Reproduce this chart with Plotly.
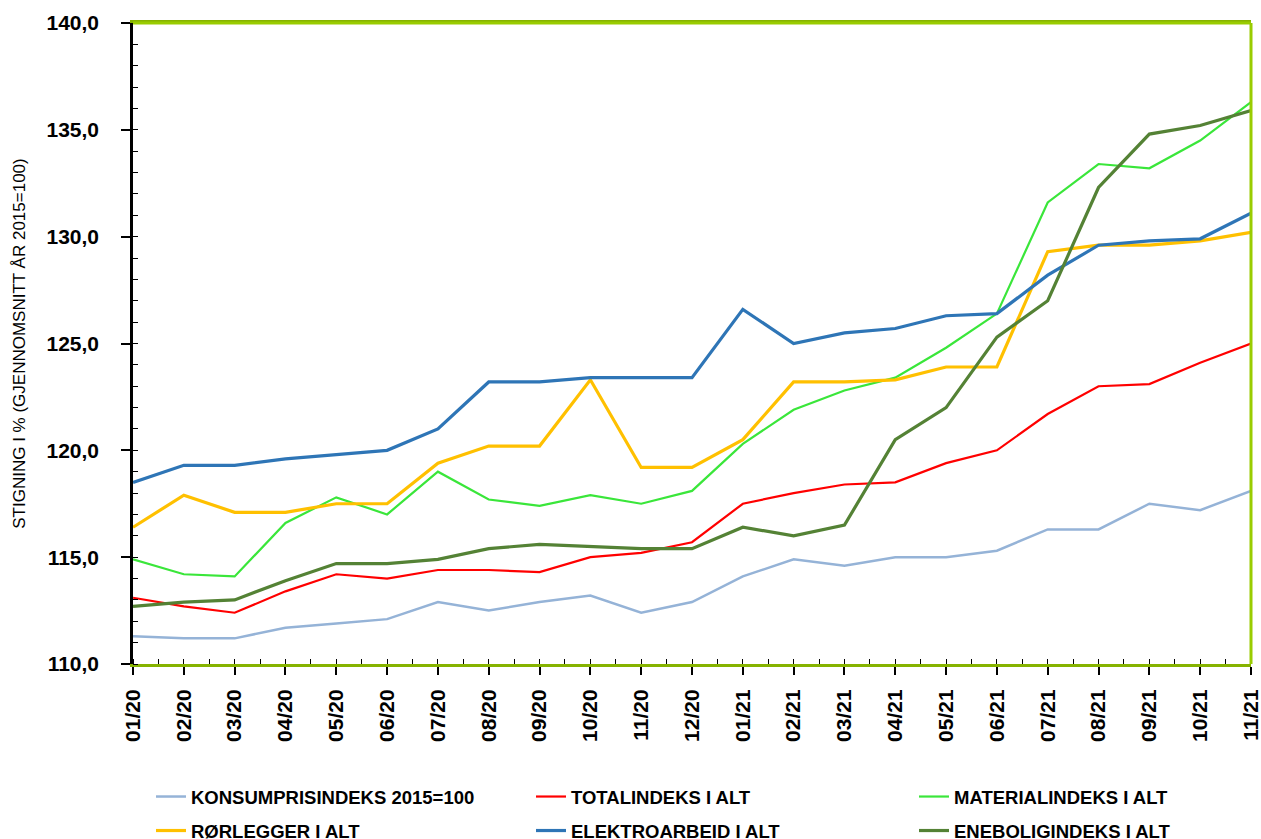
import plotly.graph_objects as go

months = ["01/20","02/20","03/20","04/20","05/20","06/20","07/20","08/20","09/20","10/20","11/20","12/20",
          "01/21","02/21","03/21","04/21","05/21","06/21","07/21","08/21","09/21","10/21","11/21"]

konsumpris = [111.3,111.2,111.2,111.7,111.9,112.1,112.9,112.5,112.9,113.2,112.4,112.9,
              114.1,114.9,114.6,115.0,115.0,115.3,116.3,116.3,117.5,117.2,118.1]
totalindeks = [113.1,112.7,112.4,113.4,114.2,114.0,114.4,114.4,114.3,115.0,115.2,115.7,
               117.5,118.0,118.4,118.5,119.4,120.0,121.7,123.0,123.1,124.1,125.0]
materialindeks = [114.9,114.2,114.1,116.6,117.8,117.0,119.0,117.7,117.4,117.9,117.5,118.1,
                  120.3,121.9,122.8,123.4,124.8,126.4,131.6,133.4,133.2,134.5,136.3]
rorlegger = [116.4,117.9,117.1,117.1,117.5,117.5,119.4,120.2,120.2,123.3,119.2,119.2,
             120.5,123.2,123.2,123.3,123.9,123.9,129.3,129.6,129.6,129.8,130.2]
elektro = [118.5,119.3,119.3,119.6,119.8,120.0,121.0,123.2,123.2,123.4,123.4,123.4,
           126.6,125.0,125.5,125.7,126.3,126.4,128.2,129.6,129.8,129.9,131.1]
enebolig = [112.7,112.9,113.0,113.9,114.7,114.7,114.9,115.4,115.6,115.5,115.4,115.4,
            116.4,116.0,116.5,120.5,122.0,125.3,127.0,132.3,134.8,135.2,135.9]

series = [
    ("KONSUMPRISINDEKS 2015=100", konsumpris, "#95B3D7", 2.5),
    ("TOTALINDEKS I ALT", totalindeks, "#FF0000", 2.2),
    ("MATERIALINDEKS I ALT", materialindeks, "#3AE63A", 2.2),
    ("RØRLEGGER I ALT", rorlegger, "#FFC000", 3.2),
    ("ELEKTROARBEID I ALT", elektro, "#2E75B6", 3.2),
    ("ENEBOLIGINDEKS I ALT", enebolig, "#548235", 3.2),
]

# plot area in pixels
L, R, T, B = 133, 1251, 23, 664
W, H = 1261, 839

def px_x(px):
    return (px - L) / (R - L)

def px_y(py):
    return (B - py) / (B - T)

legend_left_px = [151, 531, 914]
legend_row_px = [797, 831]

xs = list(range(len(months)))
fig = go.Figure()
legend_font = dict(family="Liberation Sans, Arial, sans-serif", size=18.5, color="#000000", weight="bold")
layout_legends = {}
for i, (name, vals, color, w) in enumerate(series):
    lname = "legend" if i == 0 else f"legend{i+1}"
    fig.add_trace(go.Scatter(x=xs, y=vals, mode="lines", name=name,
                             line=dict(color=color, width=w), legend=lname))
    col, row = i % 3, i // 3
    layout_legends[lname] = dict(x=px_x(legend_left_px[col]), xanchor="left",
                                 y=px_y(legend_row_px[row]), yanchor="middle",
                                 font=legend_font, bgcolor="rgba(0,0,0,0)",
                                 itemclick=False, itemdoubleclick=False)

tick_font = dict(family="Liberation Sans, Arial, sans-serif", size=21, color="#000000", weight="bold")

fig.update_layout(
    width=W, height=H,
    margin=dict(l=L, r=W - R, t=T, b=H - B, autoexpand=False),
    plot_bgcolor="white", paper_bgcolor="white",
    separators=",.",
    showlegend=True,
    xaxis=dict(range=[-0.0005, 22.0005], tickvals=xs, ticktext=months, tickangle=-90,
               showgrid=False, zeroline=False, automargin=False,
               showline=True, linecolor="#86B300", linewidth=3, mirror=True,
               ticks="outside", ticklen=8, tickcolor="#000000", tickwidth=1.5,
               ticklabelstandoff=6, tickfont=tick_font, ticklabeloverflow="allow",
               minor=dict(dtick=0.5, tick0=0, ticks="inside", ticklen=5, tickcolor="#000000", tickwidth=1.2)),
    yaxis=dict(range=[110, 140], dtick=5, tickformat=".1f",
               showgrid=False, zeroline=False, automargin=False,
               showline=True, linecolor="#000000", linewidth=2.5,
               ticks="outside", ticklen=9, tickcolor="#000000", tickwidth=1.5,
               ticklabelstandoff=18, tickfont=tick_font, ticklabeloverflow="allow",
               minor=dict(dtick=1, ticks="inside", ticklen=5, tickcolor="#000000", tickwidth=1.2),
               title=dict(text="STIGNING I % (GJENNOMSNITT ÅR 2015=100)", standoff=17,
                          font=dict(family="Liberation Sans, Arial, sans-serif", size=17, color="#000000"))),
    **layout_legends,
)

fig.add_shape(type="line", xref="paper", yref="paper", x0=1, x1=1, y0=0, y1=1,
              line=dict(color="#99CC00", width=3))
fig.add_shape(type="line", xref="paper", yref="paper", x0=0, x1=1, y0=1, y1=1,
              line=dict(color="#99CC00", width=3))

fig.write_html("out.html", config={"displayModeBar": False},
               post_script="document.body.style.margin='0';document.body.style.overflow='hidden';")
